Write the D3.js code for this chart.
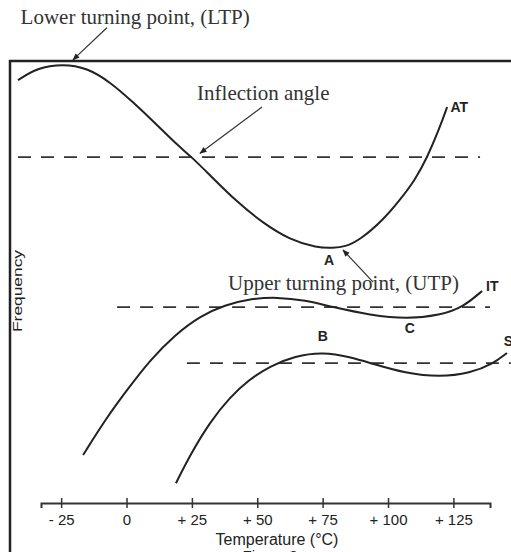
<!DOCTYPE html>
<html>
<head>
<meta charset="utf-8">
<script src="https://cdn.jsdelivr.net/npm/d3@7/dist/d3.min.js"></script>
<style>
  body { margin: 0; background: #fff; }
  svg { display: block; }
</style>
</head>
<body>
<div id="chart"></div>
<script>
// Frequency (arbitrary units) against temperature (°C) for the three cuts
const atTemp = [-41.5, -34.2, -24.3, -15.1, -6.3, 2.5, 11.7, 19.3, 25.0, 31.9, 42.3, 52.2, 62.5, 72.8, 79.0, 83.5, 89.3, 98.1, 104.6, 110.3, 114.9, 119.9, 122.6];
const atFreq = [96.1, 98.9, 99.8, 98.9, 95.7, 91.1, 85.9, 81.4, 78.6, 74.5, 68.4, 63.6, 59.8, 58.0, 58.0, 58.2, 59.8, 64.3, 68.9, 73.4, 78.4, 85.5, 90.0];

const itTemp = [-16.6, -8.2, 0.2, 9.0, 18.5, 28.1, 37.7, 47.2, 57.5, 68.3, 79.0, 93.1, 107.3, 119.9, 128.7, 136.0];
const itFreq = [10.9, 18.9, 25.7, 32.5, 38.2, 42.5, 45.0, 46.4, 46.8, 46.1, 44.5, 42.7, 41.8, 42.7, 44.5, 48.2];

const scTemp = [18.9, 24.3, 31.9, 39.6, 47.2, 54.9, 64.4, 75.1, 85.5, 94.3, 106.5, 119.9, 131.4, 140.1, 145.5];
const scFreq = [4.5, 10.9, 18.4, 24.1, 28.2, 31.1, 33.4, 34.3, 33.2, 31.6, 29.5, 28.6, 29.5, 31.6, 34.1];

// dashed reference levels (one per curve)
const refFreq = [78.6, 44.5, 31.8];
const refFrom = [-41.5, -3.6, 23.1];
const refTo = [135.2, 139.0, 147.0];

const tickValues = [-25, 0, 25, 50, 75, 100, 125];
const tickLabels = ["- 25", "0", "+ 25", "+ 50", "+ 75", "+ 100", "+ 125"];

const width = 511,
  height = 552;

const svg = d3
  .select("#chart")
  .append("svg")
  .attr("width", width)
  .attr("height", height);

const x = d3.scaleLinear().domain([-32.7, 139]).range([41, 490]);
const y = d3.scaleLinear().domain([0, 100]).range([503, 63]);

const ink = "#222";

// arrow head
svg
  .append("defs")
  .append("marker")
  .attr("id", "head")
  .attr("viewBox", "0 0 10 10")
  .attr("refX", 9)
  .attr("refY", 5)
  .attr("markerWidth", 6)
  .attr("markerHeight", 6)
  .attr("orient", "auto")
  .append("path")
  .attr("d", "M0,1L10,5L0,9z")
  .attr("fill", ink);

// frame (top and left edges only, the rest is cut off)
svg
  .append("path")
  .attr("d", `M10,${height}V61H${width}`)
  .attr("fill", "none")
  .attr("stroke", ink)
  .attr("stroke-width", 2.5);

// temperature axis
const axis = svg
  .append("g")
  .attr("transform", `translate(0,${y(0)})`)
  .call(
    d3
      .axisBottom(x)
      .tickValues(tickValues)
      .tickSizeOuter(0)
      .tickSize(5)
      .tickFormat((d, i) => tickLabels[i])
  );
axis.select(".domain").attr("stroke", "#333").attr("stroke-width", 2);
axis
  .selectAll(".tick line")
  .attr("y1", -5)
  .attr("y2", 5)
  .attr("stroke", "#333")
  .attr("stroke-width", 1.5);
axis
  .selectAll(".tick text")
  .attr("y", 11)
  .attr("fill", "#222")
  .style("font-family", "Liberation Sans, Arial, sans-serif")
  .style("font-size", "15px");

svg
  .append("text")
  .attr("x", 277)
  .attr("y", 545)
  .attr("text-anchor", "middle")
  .style("font-family", "Liberation Sans, Arial, sans-serif")
  .style("font-size", "16px")
  .attr("fill", "#222")
  .text("Temperature (°C)");

// caption, mostly below the picture's lower edge
svg
  .append("text")
  .attr("x", 270)
  .attr("y", 561)
  .attr("text-anchor", "middle")
  .style("font-family", "Liberation Sans, Arial, sans-serif")
  .style("font-size", "15px")
  .attr("fill", "#222")
  .text("Figure 2");

svg
  .append("text")
  .attr("transform", "translate(22,291) rotate(-90)")
  .attr("text-anchor", "middle")
  .style("font-family", "Liberation Sans, Arial, sans-serif")
  .style("font-size", "13px")
  .attr("textLength", 82)
  .attr("lengthAdjust", "spacingAndGlyphs")
  .attr("fill", "#222")
  .text("Frequency");

// dashed reference lines
svg
  .append("g")
  .selectAll("line")
  .data(refFreq)
  .join("line")
  .attr("x1", (d, i) => x(refFrom[i]))
  .attr("x2", (d, i) => x(refTo[i]))
  .attr("y1", (d) => y(d))
  .attr("y2", (d) => y(d))
  .attr("stroke", "#333")
  .attr("stroke-width", 1.8)
  .attr("stroke-dasharray", "13,10");

// curves
const line = d3
  .line()
  .x((d) => x(d[0]))
  .y((d) => y(d[1]))
  .curve(d3.curveBasis);

const curves = [
  d3.zip(atTemp, atFreq),
  d3.zip(itTemp, itFreq),
  d3.zip(scTemp, scFreq),
];

svg
  .append("g")
  .selectAll("path")
  .data(curves)
  .join("path")
  .attr("d", line)
  .attr("fill", "none")
  .attr("stroke", ink)
  .attr("stroke-width", 2);

// curve labels
const boldLabel = (t, f, txt, anchor) =>
  svg
    .append("text")
    .attr("x", x(t))
    .attr("y", y(f))
    .attr("text-anchor", anchor)
    .style("font-family", "Liberation Sans, Arial, sans-serif")
    .style("font-weight", "bold")
    .style("font-size", "14px")
    .attr("fill", ink)
    .text(txt);

boldLabel(atTemp[atTemp.length - 1] + 1.3, atFreq[atFreq.length - 1] - 1.2, "AT", "start");
boldLabel(77.5, 54, "A", "middle");
boldLabel(itTemp[itTemp.length - 1] + 1.5, 48.2, "IT", "start");
boldLabel(108.3, 38.6, "C", "middle");
boldLabel(75.1, 36.8, "B", "middle");
boldLabel(scTemp[scTemp.length - 1] - 1.2, 35.6, "SC", "start");

// serif annotations with arrows
const notes = [
  { text: "Lower turning point, (LTP)", tx: -40.5, ty: 108.8, from: [-7.5, 108], to: [-20.5, 100.7] },
  { text: "Inflection angle", tx: 27, ty: 91.6, from: [51.8, 90], to: [28.1, 79.5] },
  { text: "Upper turning point, (UTP)", tx: 38.8, ty: 48.4, from: [94.3, 50.2], to: [82.8, 57.5] },
];

notes.forEach((n) => {
  svg
    .append("text")
    .attr("x", x(n.tx))
    .attr("y", y(n.ty))
    .style("font-family", "Liberation Serif, Times New Roman, serif")
    .style("font-size", "21px")
    .attr("fill", "#333")
    .text(n.text);
  svg
    .append("line")
    .attr("x1", x(n.from[0]))
    .attr("y1", y(n.from[1]))
    .attr("x2", x(n.to[0]))
    .attr("y2", y(n.to[1]))
    .attr("stroke", "#333")
    .attr("stroke-width", 1.2)
    .attr("marker-end", "url(#head)");
});
</script>
</body>
</html>
